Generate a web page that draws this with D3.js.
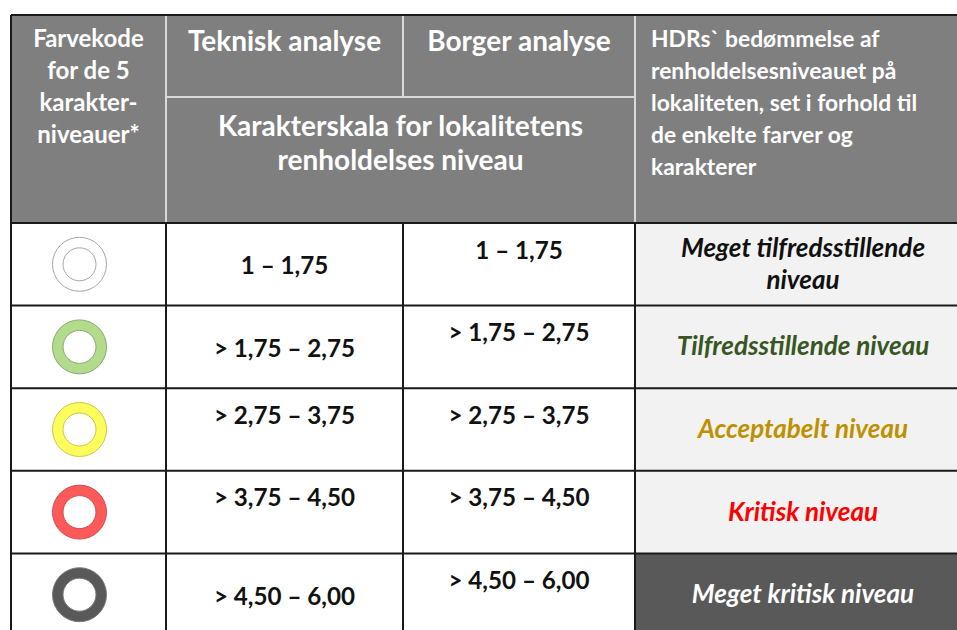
<!DOCTYPE html>
<html><head><meta charset="utf-8">
<script src="https://cdn.jsdelivr.net/npm/d3@7"></script>
<style>
html,body{margin:0;padding:0;background:#fff;}
svg{display:block;}
text{font-family:Lato,"Open Sans",sans-serif;font-weight:700;}
</style></head>
<body>
<script>
// ---- data ----
const levels = ["Hvid", "Grøn", "Gul", "Rød", "Mørkegrå"];
const ringColors = ["#ffffff", "#b3db8c", "#fcfc5c", "#ff5a5a", "#595959"];
const ringStrokes = ["#a6a6a6", "#8aa870", "#c9c94a", "#c95050", "#7a7a7a"];
const tekniskRanges = ["1 – 1,75", "> 1,75 – 2,75", "> 2,75 – 3,75", "> 3,75 – 4,50", "> 4,50 – 6,00"];
const borgerRanges = ["1 – 1,75", "> 1,75 – 2,75", "> 2,75 – 3,75", "> 3,75 – 4,50", "> 4,50 – 6,00"];
const assessments = [["Meget tilfredsstillende", "niveau"], ["Tilfredsstillende niveau"], ["Acceptabelt niveau"], ["Kritisk niveau"], ["Meget kritisk niveau"]];
const assessmentColors = ["#111111", "#375623", "#bf9000", "#ff0000", "#ffffff"];
const assessmentBg = ["#f2f2f2", "#f2f2f2", "#f2f2f2", "#f2f2f2", "#595959"];
const headerCol1 = ["Farvekode", "for de 5", "karakter-", "niveauer*"];
const headerTeknisk = "Teknisk analyse";
const headerBorger = "Borger analyse";
const headerScale = ["Karakterskala for lokalitetens", "renholdelses niveau"];
const headerHDR = ["HDRs` bedømmelse af", "renholdelsesniveauet på", "lokaliteten, set i forhold til", "de enkelte farver og", "karakterer"];

// ---- layout ----
const W = 957, H = 630;
const colEdges = [11, 166, 403, 635, 971];
const headTop = 15, headMid = 97, headBottom = 223, bodyBottom = 636;
const svg = d3.select("body").append("svg").attr("width", W).attr("height", H);

const y = d3.scaleBand().domain(d3.range(levels.length)).range([headBottom, bodyBottom]).padding(0);

// header background
svg.append("rect").attr("x", colEdges[0]).attr("y", headTop).attr("width", colEdges[4] - colEdges[0]).attr("height", headBottom - headTop).attr("fill", "#7f7f7f");

// body backgrounds
const rows = svg.append("g");
rows.selectAll("rect.w").data(levels).join("rect")
  .attr("x", colEdges[0]).attr("y", (d, i) => y(i)).attr("width", colEdges[3] - colEdges[0]).attr("height", y.bandwidth()).attr("fill", "#ffffff");
rows.selectAll("rect.a").data(assessmentBg).join("rect")
  .attr("x", colEdges[3]).attr("y", (d, i) => y(i)).attr("width", colEdges[4] - colEdges[3]).attr("height", y.bandwidth()).attr("fill", d => d);

// header inner light lines
const light = "#d9d9d9";
svg.append("line").attr("x1", colEdges[1]).attr("x2", colEdges[1]).attr("y1", headTop).attr("y2", headBottom).attr("stroke", light).attr("stroke-width", 2);
svg.append("line").attr("x1", colEdges[3]).attr("x2", colEdges[3]).attr("y1", headTop).attr("y2", headBottom).attr("stroke", light).attr("stroke-width", 2);
svg.append("line").attr("x1", colEdges[2]).attr("x2", colEdges[2]).attr("y1", headTop).attr("y2", headMid).attr("stroke", light).attr("stroke-width", 2);
svg.append("line").attr("x1", colEdges[1]).attr("x2", colEdges[3]).attr("y1", headMid).attr("y2", headMid).attr("stroke", light).attr("stroke-width", 2);

// body grid
const dark = "#1a1a1a";
const g = svg.append("g").attr("stroke", dark).attr("stroke-width", 2);
d3.range(levels.length + 1).forEach(i => {
  const yy = i < levels.length ? y(i) : bodyBottom;
  g.append("line").attr("x1", colEdges[0]).attr("x2", colEdges[4]).attr("y1", yy).attr("y2", yy);
});
colEdges.forEach(x => {
  g.append("line").attr("x1", x).attr("x2", x).attr("y1", headBottom).attr("y2", bodyBottom);
});
// outer header border
g.append("line").attr("x1", colEdges[0]).attr("x2", colEdges[4]).attr("y1", headTop).attr("y2", headTop);
g.append("line").attr("x1", colEdges[0]).attr("x2", colEdges[0]).attr("y1", headTop).attr("y2", headBottom);

// header texts
const cx = i => (colEdges[i] + colEdges[i + 1]) / 2;
svg.append("g").selectAll("text").data(headerCol1).join("text")
  .attr("x", cx(0)).attr("y", (d, i) => 47 + i * 32).attr("text-anchor", "middle")
  .attr("fill", "#fff").attr("font-size", 24).text(d => d);
svg.append("text").attr("x", cx(1)).attr("y", 51).attr("text-anchor", "middle").attr("fill", "#fff").attr("font-size", 28).text(headerTeknisk);
svg.append("text").attr("x", cx(2)).attr("y", 51).attr("text-anchor", "middle").attr("fill", "#fff").attr("font-size", 28).text(headerBorger);
svg.append("g").selectAll("text").data(headerScale).join("text")
  .attr("x", (colEdges[1] + colEdges[3]) / 2).attr("y", (d, i) => 136 + i * 34).attr("text-anchor", "middle")
  .attr("fill", "#fff").attr("font-size", 28).text(d => d);
svg.append("g").selectAll("text").data(headerHDR).join("text")
  .attr("x", colEdges[3] + 16).attr("y", (d, i) => 47 + i * 32)
  .attr("fill", "#fff").attr("font-size", 22.8).text(d => d);

// rings
const arc = d3.arc().innerRadius(16.5).outerRadius(27).startAngle(0).endAngle(2 * Math.PI);
svg.append("g").selectAll("path").data(levels).join("path")
  .attr("transform", (d, i) => `translate(${cx(0) - 9},${y(i) + y.bandwidth() / 2})`)
  .attr("d", arc()).attr("fill", (d, i) => ringColors[i]).attr("stroke", (d, i) => ringStrokes[i]).attr("stroke-width", 1);

// range texts
const tekniskAlign = ["middle", "middle", "top", "top", "middle"];
const baseY = (i, a) => a === "top" ? y(i) + 35.5 : y(i) + y.bandwidth() / 2 + 10;
svg.append("g").selectAll("text").data(tekniskRanges).join("text")
  .attr("x", cx(1)).attr("y", (d, i) => baseY(i, tekniskAlign[i])).attr("text-anchor", "middle")
  .attr("fill", "#111").attr("font-size", 24.2).text(d => d);
svg.append("g").selectAll("text").data(borgerRanges).join("text")
  .attr("x", cx(2)).attr("y", (d, i) => baseY(i, "top")).attr("text-anchor", "middle")
  .attr("fill", "#111").attr("font-size", 24.2).text(d => d);

// assessments
const ag = svg.append("g");
assessments.forEach((lines, i) => {
  const mid = y(i) + y.bandwidth() / 2;
  const lh = 32;
  lines.forEach((t, j) => {
    ag.append("text").attr("x", 803).attr("y", mid + 8.5 + (j - (lines.length - 1) / 2) * lh)
      .attr("text-anchor", "middle").attr("font-style", "italic").attr("font-size", 26)
      .attr("fill", assessmentColors[i]).text(t);
  });
});
</script>
</body></html>
